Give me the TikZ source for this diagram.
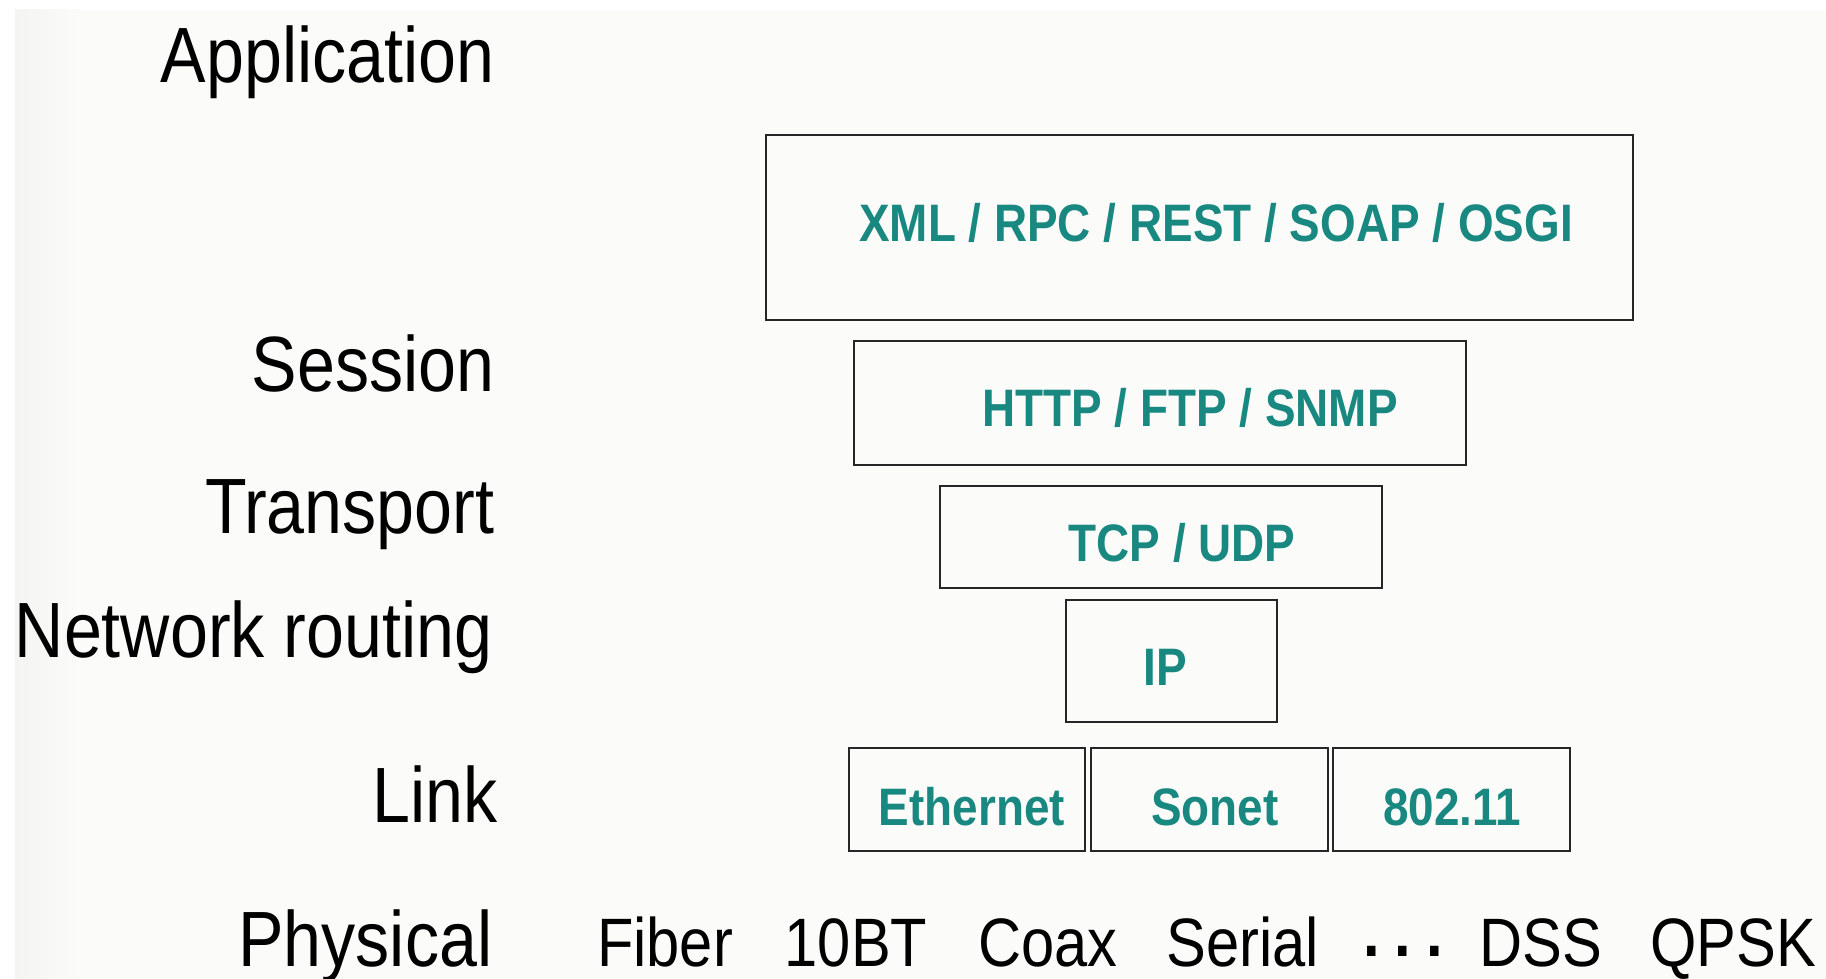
\documentclass[tikz,border=0pt]{standalone}
\usepackage{fontspec}
\setmainfont{Liberation Sans}[FakeStretch=0.87]
\usepackage{xcolor}
\usepackage{tikz}
\definecolor{paper}{RGB}{251,251,249}
\definecolor{paperedge}{RGB}{244,245,242}
\definecolor{proto}{RGB}{24,136,128}

\begin{document}
\begin{tikzpicture}[
    layer/.style={draw=black!85, line width=0.75pt, rectangle, inner sep=0pt},
    layername/.style={anchor=base east, font=\fontsize{22.3}{26}\selectfont, text=black, inner sep=0pt},
    protoname/.style={anchor=base, font=\fontsize{15}{18}\selectfont\bfseries, text=proto, inner sep=0pt},
    medium/.style={anchor=base, font=\fontsize{19.5}{23}\selectfont, text=black, inner sep=0pt}
  ]
  \useasboundingbox (0,0) rectangle (18.26,-9.79);
  \fill[white] (0,0) rectangle (18.26,-9.79);
  \fill[paper] (0.15,-0.1) rectangle (18.26,-9.79);
  \shade[left color=paperedge, right color=paper] (0.15,-0.1) rectangle (0.8,-9.79);

  % layer names
  \node[layername] (application) at (4.95,-0.83) {Application};
  \node[layername] (session) at (4.95,-3.92) {Session};
  \node[layername] (transport) at (4.95,-5.34) {Transport};
  \node[layername] (network) at (4.93,-6.58) {Network routing};
  \node[layername] (link) at (4.98,-8.23) {Link};
  \node[layername] (physical) at (4.93,-9.66) {Physical};

  % protocol boxes
  \node[layer, minimum width=8.67cm, minimum height=1.85cm] (appbox) at (11.995,-2.275) {};
  \node[layer, minimum width=6.12cm, minimum height=1.24cm] (sessbox) at (11.60,-4.03) {};
  \node[layer, minimum width=4.42cm, minimum height=1.02cm] (tcpbox) at (11.61,-5.37) {};
  \node[layer, minimum width=2.11cm, minimum height=1.22cm] (ipbox) at (11.715,-6.61) {};
  \node[layer, minimum width=2.36cm, minimum height=1.03cm] (ethbox) at (9.67,-7.995) {};
  \node[layer, minimum width=2.37cm, minimum height=1.03cm] (sonetbox) at (12.095,-7.995) {};
  \node[layer, minimum width=2.37cm, minimum height=1.03cm] (wifibox) at (14.515,-7.995) {};

  \node[protoname] (xml) at (12.16,-2.42) {XML / RPC / REST / SOAP / OSGI};
  \node[protoname] (http) at (11.90,-4.27) {HTTP / FTP / SNMP};
  \node[protoname] (tcp) at (11.82,-5.61) {TCP / UDP};
  \node[protoname] (ip) at (11.65,-6.85) {IP};
  \node[protoname] (ethernet) at (9.72,-8.25) {Ethernet};
  \node[protoname] (sonet) at (12.15,-8.25) {Sonet};
  \node[protoname] (wifi) at (14.52,-8.25) {802.11};

  % physical media
  \node[medium] (fiber) at (6.65,-9.66) {Fiber};
  \node[medium] (tenbt) at (8.56,-9.66) {10BT};
  \node[medium] (coax) at (10.48,-9.66) {Coax};
  \node[medium] (serial) at (12.43,-9.66) {Serial};
  \node[medium] (dots) at (14.03,-9.66) {\raisebox{2.8pt}{\bfseries .\hspace{0.15cm}.\hspace{0.15cm}.}};
  \node[medium] (dss) at (15.41,-9.66) {DSS};
  \node[medium] (qpsk) at (17.33,-9.66) {QPSK};
\end{tikzpicture}
\end{document}
